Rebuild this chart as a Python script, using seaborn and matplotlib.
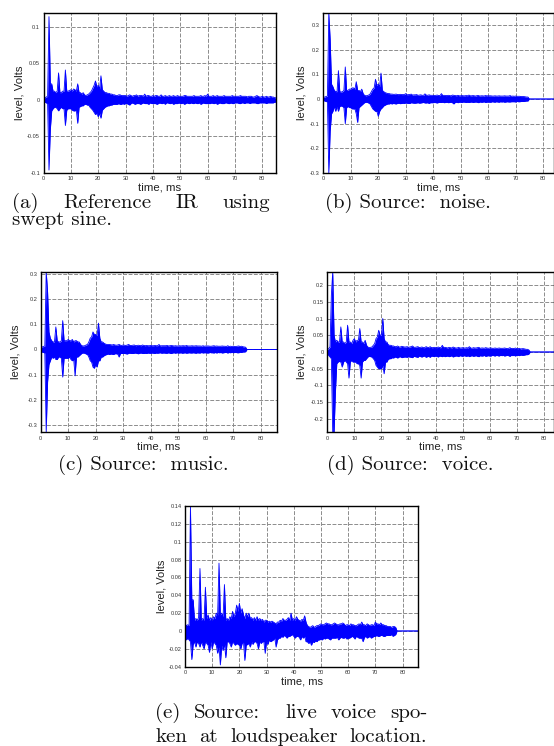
import numpy as np
import pandas as pd
import matplotlib
matplotlib.use("Agg")
import matplotlib.pyplot as plt
from matplotlib.ticker import FuncFormatter
import seaborn as sns

# ---------------------------------------------------------------------------
# Impulse responses as peak envelopes: upper / lower excursion (volts) in
# every 0.5 ms bin, starting at t = 0.
# ---------------------------------------------------------------------------
BIN_MS = 0.5

# (a) reference IR measured with a swept sine
hi_a = [
    0.003, 0.003, 0.004, 0.005, 0.114, 0.022, 0.022, 0.012, 0.012, 0.010,
    0.012, 0.037, 0.010, 0.010, 0.012, 0.012, 0.041, 0.012, 0.012, 0.013,
    0.014, 0.012, 0.015, 0.014, 0.012, 0.022, 0.010, 0.010, 0.008, 0.010,
    0.007, 0.006, 0.007, 0.008, 0.010, 0.012, 0.016, 0.020, 0.026, 0.018,
    0.020, 0.015, 0.033, 0.014, 0.012, 0.010, 0.010, 0.009, 0.009, 0.008,
    0.008, 0.007, 0.007, 0.006, 0.006, 0.007, 0.007, 0.006, 0.006, 0.006,
    0.006, 0.005, 0.006, 0.007, 0.006, 0.005, 0.006, 0.006, 0.007, 0.005,
    0.006, 0.006, 0.006, 0.005, 0.008, 0.005, 0.006, 0.006, 0.005, 0.005,
    0.006, 0.005, 0.006, 0.006, 0.005, 0.005, 0.007, 0.005, 0.005, 0.006,
    0.005, 0.005, 0.006, 0.005, 0.005, 0.006, 0.005, 0.005, 0.006, 0.005,
    0.005, 0.005, 0.005, 0.006, 0.006, 0.005, 0.005, 0.005, 0.005, 0.005,
    0.006, 0.005, 0.005, 0.005, 0.005, 0.006, 0.005, 0.005, 0.006, 0.005,
    0.008, 0.005, 0.005, 0.005, 0.006, 0.005, 0.005, 0.006, 0.005, 0.005,
    0.005, 0.005, 0.006, 0.005, 0.005, 0.005, 0.005, 0.005, 0.006, 0.005,
    0.005, 0.005, 0.005, 0.005, 0.006, 0.005, 0.005, 0.005, 0.005, 0.004,
    0.005, 0.005, 0.005, 0.004, 0.004, 0.005, 0.006, 0.005, 0.004, 0.004,
    0.005, 0.004, 0.004, 0.005, 0.004, 0.004, 0.005, 0.004, 0.004, 0.003, 0.003,
]
lo_a = [
    -0.003, -0.003, -0.004, -0.005, -0.096, -0.040, -0.015, -0.012, -0.010, -0.010,
    -0.012, -0.015, -0.012, -0.010, -0.012, -0.012, -0.035, -0.014, -0.012, -0.012,
    -0.012, -0.014, -0.015, -0.015, -0.014, -0.032, -0.010, -0.009, -0.008, -0.008,
    -0.006, -0.006, -0.007, -0.007, -0.010, -0.012, -0.014, -0.017, -0.020, -0.018,
    -0.023, -0.018, -0.025, -0.014, -0.012, -0.010, -0.009, -0.008, -0.008, -0.007,
    -0.007, -0.006, -0.006, -0.006, -0.006, -0.005, -0.006, -0.006, -0.005, -0.006,
    -0.005, -0.005, -0.006, -0.007, -0.005, -0.004, -0.005, -0.006, -0.005, -0.005,
    -0.005, -0.006, -0.005, -0.004, -0.005, -0.005, -0.005, -0.006, -0.004, -0.005,
    -0.005, -0.005, -0.005, -0.006, -0.005, -0.004, -0.005, -0.005, -0.004, -0.006,
    -0.004, -0.004, -0.005, -0.005, -0.004, -0.006, -0.005, -0.005, -0.005, -0.004,
    -0.005, -0.005, -0.004, -0.006, -0.005, -0.004, -0.005, -0.005, -0.004, -0.005,
    -0.005, -0.004, -0.005, -0.005, -0.004, -0.006, -0.005, -0.004, -0.005, -0.005,
    -0.005, -0.005, -0.005, -0.004, -0.005, -0.005, -0.004, -0.006, -0.005, -0.004,
    -0.005, -0.005, -0.005, -0.004, -0.004, -0.005, -0.005, -0.004, -0.005, -0.005,
    -0.004, -0.004, -0.004, -0.005, -0.005, -0.004, -0.004, -0.005, -0.004, -0.004,
    -0.004, -0.005, -0.004, -0.004, -0.004, -0.004, -0.005, -0.005, -0.004, -0.004,
    -0.004, -0.004, -0.004, -0.005, -0.004, -0.004, -0.004, -0.004, -0.004, -0.003, -0.003,
]

# (b) excitation: noise (record ends at 75 ms, zero padded after)
hi_b = [
    0.006, 0.008, 0.010, 0.012, 0.350, 0.240, 0.060, 0.050, 0.035, 0.030,
    0.030, 0.115, 0.030, 0.028, 0.030, 0.035, 0.130, 0.035, 0.035, 0.040,
    0.040, 0.045, 0.045, 0.040, 0.070, 0.035, 0.035, 0.030, 0.040, 0.022,
    0.015, 0.013, 0.014, 0.016, 0.020, 0.030, 0.040, 0.045, 0.080, 0.055,
    0.060, 0.050, 0.105, 0.035, 0.030, 0.026, 0.024, 0.022, 0.022, 0.020,
    0.020, 0.019, 0.019, 0.020, 0.018, 0.018, 0.019, 0.018, 0.018, 0.018,
    0.022, 0.017, 0.018, 0.018, 0.020, 0.016, 0.017, 0.017, 0.018, 0.015,
    0.016, 0.017, 0.015, 0.015, 0.021, 0.016, 0.015, 0.017, 0.015, 0.015,
    0.015, 0.014, 0.015, 0.016, 0.014, 0.014, 0.022, 0.014, 0.015, 0.014,
    0.014, 0.015, 0.014, 0.013, 0.016, 0.015, 0.014, 0.013, 0.015, 0.013,
    0.013, 0.014, 0.013, 0.013, 0.014, 0.013, 0.016, 0.013, 0.013, 0.014,
    0.013, 0.012, 0.014, 0.014, 0.012, 0.013, 0.013, 0.012, 0.014, 0.013,
    0.013, 0.013, 0.013, 0.012, 0.012, 0.013, 0.012, 0.012, 0.013, 0.012,
    0.012, 0.012, 0.013, 0.012, 0.012, 0.012, 0.014, 0.011, 0.012, 0.011,
    0.012, 0.011, 0.011, 0.011, 0.010, 0.010, 0.010, 0.009, 0.008, 0.008,
    0.0,
] + [0.0] * 18
lo_b = [
    -0.006, -0.008, -0.010, -0.012, -0.300, -0.130, -0.060, -0.050, -0.030, -0.050,
    -0.030, -0.050, -0.030, -0.028, -0.030, -0.035, -0.100, -0.035, -0.030, -0.035,
    -0.035, -0.040, -0.040, -0.040, -0.060, -0.095, -0.035, -0.030, -0.025, -0.020,
    -0.015, -0.013, -0.014, -0.016, -0.020, -0.030, -0.040, -0.045, -0.050, -0.050,
    -0.070, -0.050, -0.040, -0.035, -0.028, -0.025, -0.022, -0.020, -0.020, -0.018,
    -0.020, -0.018, -0.019, -0.020, -0.018, -0.017, -0.019, -0.018, -0.017, -0.018,
    -0.016, -0.017, -0.018, -0.018, -0.015, -0.016, -0.017, -0.017, -0.016, -0.015,
    -0.017, -0.016, -0.015, -0.014, -0.016, -0.016, -0.015, -0.018, -0.015, -0.015,
    -0.015, -0.014, -0.015, -0.016, -0.014, -0.014, -0.014, -0.013, -0.015, -0.014,
    -0.013, -0.015, -0.014, -0.013, -0.015, -0.020, -0.014, -0.013, -0.015, -0.013,
    -0.013, -0.014, -0.012, -0.013, -0.014, -0.013, -0.014, -0.013, -0.012, -0.014,
    -0.013, -0.012, -0.013, -0.015, -0.012, -0.013, -0.013, -0.011, -0.014, -0.013,
    -0.012, -0.013, -0.013, -0.011, -0.012, -0.013, -0.011, -0.012, -0.013, -0.011,
    -0.012, -0.011, -0.013, -0.012, -0.011, -0.012, -0.012, -0.011, -0.011, -0.011,
    -0.012, -0.010, -0.011, -0.011, -0.010, -0.010, -0.010, -0.009, -0.008, -0.008,
    0.0,
] + [0.0] * 18

# (c) excitation: music
hi_c = [
    0.010, 0.010, 0.012, 0.014, 0.310, 0.230, 0.070, 0.045, 0.035, 0.030,
    0.030, 0.090, 0.035, 0.030, 0.030, 0.035, 0.115, 0.035, 0.035, 0.035,
    0.040, 0.035, 0.035, 0.040, 0.030, 0.035, 0.035, 0.030, 0.030, 0.020,
    0.015, 0.014, 0.015, 0.018, 0.020, 0.030, 0.045, 0.050, 0.070, 0.060,
    0.060, 0.055, 0.105, 0.045, 0.030, 0.030, 0.025, 0.022, 0.020, 0.020,
    0.020, 0.019, 0.018, 0.020, 0.018, 0.017, 0.018, 0.020, 0.017, 0.016,
    0.018, 0.017, 0.016, 0.018, 0.020, 0.016, 0.016, 0.017, 0.018, 0.015,
    0.016, 0.017, 0.016, 0.015, 0.018, 0.016, 0.015, 0.016, 0.015, 0.015,
    0.016, 0.015, 0.015, 0.016, 0.015, 0.015, 0.020, 0.014, 0.015, 0.015,
    0.015, 0.015, 0.016, 0.014, 0.015, 0.016, 0.015, 0.014, 0.015, 0.014,
    0.014, 0.015, 0.014, 0.015, 0.015, 0.014, 0.016, 0.014, 0.014, 0.014,
    0.015, 0.014, 0.014, 0.015, 0.014, 0.014, 0.014, 0.013, 0.015, 0.013,
    0.014, 0.014, 0.014, 0.013, 0.013, 0.014, 0.015, 0.013, 0.014, 0.013,
    0.013, 0.013, 0.014, 0.013, 0.013, 0.012, 0.015, 0.012, 0.013, 0.012,
    0.013, 0.012, 0.012, 0.013, 0.014, 0.012, 0.013, 0.011, 0.010, 0.009,
    0.0,
] + [0.0] * 22
lo_c = [
    -0.010, -0.010, -0.012, -0.014, -0.330, -0.130, -0.060, -0.045, -0.030, -0.035,
    -0.030, -0.040, -0.040, -0.030, -0.030, -0.035, -0.110, -0.035, -0.035, -0.035,
    -0.035, -0.030, -0.040, -0.045, -0.040, -0.105, -0.030, -0.030, -0.025, -0.020,
    -0.015, -0.014, -0.015, -0.018, -0.020, -0.030, -0.045, -0.050, -0.070, -0.075,
    -0.060, -0.070, -0.045, -0.045, -0.030, -0.030, -0.025, -0.022, -0.020, -0.018,
    -0.020, -0.018, -0.019, -0.020, -0.017, -0.017, -0.018, -0.030, -0.016, -0.016,
    -0.016, -0.016, -0.017, -0.018, -0.015, -0.015, -0.016, -0.016, -0.015, -0.014,
    -0.016, -0.017, -0.015, -0.014, -0.016, -0.016, -0.015, -0.016, -0.014, -0.015,
    -0.015, -0.014, -0.015, -0.016, -0.014, -0.015, -0.014, -0.013, -0.015, -0.014,
    -0.014, -0.015, -0.015, -0.013, -0.015, -0.016, -0.014, -0.013, -0.015, -0.013,
    -0.014, -0.014, -0.013, -0.015, -0.014, -0.013, -0.015, -0.014, -0.013, -0.014,
    -0.014, -0.013, -0.014, -0.015, -0.013, -0.014, -0.014, -0.012, -0.014, -0.013,
    -0.013, -0.014, -0.014, -0.012, -0.013, -0.013, -0.014, -0.012, -0.014, -0.012,
    -0.013, -0.012, -0.014, -0.013, -0.012, -0.012, -0.014, -0.012, -0.013, -0.011,
    -0.013, -0.012, -0.012, -0.013, -0.013, -0.011, -0.012, -0.010, -0.010, -0.009,
    0.0,
] + [0.0] * 22

# (d) excitation: voice
hi_d = [
    0.006, 0.010, 0.015, 0.170, 0.240, 0.050, 0.030, 0.035, 0.030, 0.030,
    0.075, 0.030, 0.030, 0.025, 0.030, 0.080, 0.030, 0.030, 0.025, 0.035,
    0.040, 0.030, 0.035, 0.035, 0.070, 0.030, 0.030, 0.025, 0.035, 0.020,
    0.015, 0.013, 0.014, 0.015, 0.020, 0.025, 0.040, 0.045, 0.065, 0.050,
    0.050, 0.100, 0.040, 0.030, 0.030, 0.022, 0.020, 0.020, 0.018, 0.018,
    0.016, 0.016, 0.018, 0.015, 0.015, 0.017, 0.016, 0.015, 0.015, 0.016,
    0.014, 0.015, 0.016, 0.018, 0.014, 0.014, 0.015, 0.016, 0.013, 0.014,
    0.015, 0.013, 0.013, 0.016, 0.014, 0.013, 0.016, 0.013, 0.013, 0.014,
    0.013, 0.013, 0.015, 0.013, 0.013, 0.020, 0.013, 0.014, 0.013, 0.012,
    0.014, 0.013, 0.012, 0.015, 0.013, 0.012, 0.012, 0.014, 0.012, 0.012,
    0.013, 0.012, 0.012, 0.013, 0.012, 0.016, 0.012, 0.011, 0.013, 0.012,
    0.012, 0.013, 0.014, 0.011, 0.012, 0.012, 0.011, 0.013, 0.012, 0.011,
    0.012, 0.012, 0.011, 0.011, 0.012, 0.011, 0.011, 0.012, 0.011, 0.011,
    0.011, 0.012, 0.011, 0.010, 0.011, 0.013, 0.010, 0.011, 0.010, 0.012,
    0.010, 0.010, 0.011, 0.009, 0.010, 0.010, 0.009, 0.008, 0.008, 0.006,
    0.0,
] + [0.0] * 18
lo_d = [
    -0.006, -0.010, -0.015, -0.020, -0.240, -0.240, -0.120, -0.035, -0.030, -0.028,
    -0.030, -0.045, -0.030, -0.025, -0.030, -0.035, -0.078, -0.030, -0.025, -0.030,
    -0.030, -0.030, -0.035, -0.035, -0.040, -0.078, -0.030, -0.025, -0.025, -0.020,
    -0.015, -0.013, -0.014, -0.015, -0.020, -0.025, -0.040, -0.045, -0.050, -0.050,
    -0.050, -0.040, -0.065, -0.030, -0.030, -0.022, -0.020, -0.020, -0.017, -0.018,
    -0.015, -0.016, -0.018, -0.015, -0.014, -0.017, -0.016, -0.015, -0.015, -0.016,
    -0.014, -0.015, -0.016, -0.017, -0.013, -0.014, -0.015, -0.016, -0.012, -0.014,
    -0.015, -0.013, -0.012, -0.016, -0.014, -0.013, -0.016, -0.012, -0.013, -0.014,
    -0.012, -0.013, -0.015, -0.012, -0.013, -0.014, -0.012, -0.014, -0.013, -0.012,
    -0.014, -0.013, -0.011, -0.015, -0.013, -0.012, -0.012, -0.014, -0.011, -0.012,
    -0.013, -0.011, -0.012, -0.013, -0.011, -0.014, -0.012, -0.011, -0.013, -0.012,
    -0.011, -0.013, -0.014, -0.011, -0.012, -0.012, -0.010, -0.013, -0.012, -0.011,
    -0.012, -0.012, -0.010, -0.011, -0.012, -0.010, -0.011, -0.012, -0.010, -0.011,
    -0.010, -0.012, -0.011, -0.010, -0.011, -0.013, -0.010, -0.011, -0.010, -0.012,
    -0.010, -0.010, -0.011, -0.009, -0.010, -0.010, -0.009, -0.008, -0.008, -0.006,
    0.0,
] + [0.0] * 18

# (e) live voice spoken at the loudspeaker location (record ends at 78 ms)
hi_e = [
    0.008, 0.006, 0.007, 0.006, 0.140, 0.035, 0.035, 0.012, 0.014, 0.012,
    0.015, 0.070, 0.012, 0.014, 0.012, 0.049, 0.014, 0.018, 0.012, 0.015,
    0.012, 0.016, 0.014, 0.020, 0.018, 0.076, 0.018, 0.020, 0.016, 0.052,
    0.012, 0.014, 0.012, 0.016, 0.014, 0.022, 0.016, 0.020, 0.029, 0.022,
    0.031, 0.020, 0.025, 0.018, 0.014, 0.020, 0.016, 0.020, 0.014, 0.015,
    0.012, 0.015, 0.012, 0.016, 0.012, 0.014, 0.012, 0.013, 0.010, 0.012,
    0.012, 0.010, 0.011, 0.010, 0.011, 0.010, 0.009, 0.008, 0.010, 0.010,
    0.012, 0.011, 0.014, 0.012, 0.012, 0.013, 0.015, 0.012, 0.020, 0.012,
    0.014, 0.012, 0.016, 0.013, 0.012, 0.011, 0.013, 0.012, 0.017, 0.010,
    0.006, 0.005, 0.004, 0.005, 0.006, 0.004, 0.005, 0.006, 0.006, 0.007,
    0.008, 0.007, 0.007, 0.008, 0.009, 0.008, 0.008, 0.007, 0.007, 0.008,
    0.009, 0.008, 0.007, 0.007, 0.008, 0.008, 0.009, 0.008, 0.006, 0.007,
    0.007, 0.006, 0.008, 0.007, 0.007, 0.006, 0.006, 0.007, 0.008, 0.007,
    0.010, 0.007, 0.007, 0.006, 0.008, 0.007, 0.006, 0.007, 0.007, 0.006,
    0.010, 0.008, 0.008, 0.007, 0.009, 0.007, 0.007, 0.006, 0.006, 0.005,
    0.005, 0.005, 0.004, 0.005, 0.005, 0.004, 0.0,
] + [0.0] * 16
lo_e = [
    -0.008, -0.010, -0.008, -0.010, -0.012, -0.032, -0.015, -0.012, -0.018, -0.012,
    -0.014, -0.018, -0.012, -0.016, -0.020, -0.012, -0.014, -0.016, -0.024, -0.012,
    -0.020, -0.012, -0.014, -0.016, -0.025, -0.018, -0.038, -0.016, -0.022, -0.014,
    -0.030, -0.012, -0.012, -0.014, -0.018, -0.012, -0.014, -0.016, -0.014, -0.015,
    -0.016, -0.020, -0.014, -0.012, -0.033, -0.016, -0.015, -0.014, -0.018, -0.012,
    -0.015, -0.012, -0.012, -0.014, -0.020, -0.012, -0.014, -0.012, -0.012, -0.025,
    -0.012, -0.015, -0.010, -0.012, -0.011, -0.010, -0.008, -0.018, -0.010, -0.008,
    -0.008, -0.006, -0.007, -0.005, -0.006, -0.008, -0.006, -0.006, -0.005, -0.004,
    -0.006, -0.008, -0.006, -0.006, -0.007, -0.010, -0.006, -0.008, -0.006, -0.012,
    -0.012, -0.014, -0.012, -0.016, -0.012, -0.013, -0.011, -0.012, -0.010, -0.010,
    -0.009, -0.010, -0.008, -0.009, -0.008, -0.008, -0.009, -0.010, -0.008, -0.008,
    -0.008, -0.008, -0.007, -0.010, -0.008, -0.007, -0.008, -0.008, -0.007, -0.009,
    -0.008, -0.008, -0.007, -0.006, -0.007, -0.009, -0.006, -0.007, -0.008, -0.008,
    -0.008, -0.012, -0.007, -0.006, -0.008, -0.007, -0.006, -0.008, -0.007, -0.006,
    -0.006, -0.005, -0.006, -0.006, -0.005, -0.005, -0.006, -0.006, -0.005, -0.005,
    -0.005, -0.005, -0.004, -0.006, -0.005, -0.004, 0.0,
] + [0.0] * 16

# Axis ranges and tick positions
x_ticks = [0, 10, 20, 30, 40, 50, 60, 70, 80]
y_ticks_a = [-0.1, -0.05, 0, 0.05, 0.1]
y_ticks_bc = [-0.3, -0.2, -0.1, 0, 0.1, 0.2, 0.3]
y_ticks_d = [-0.2, -0.15, -0.1, -0.05, 0, 0.05, 0.1, 0.15, 0.2]
y_ticks_e = [-0.04, -0.02, 0, 0.02, 0.04, 0.06, 0.08, 0.1, 0.12, 0.14]

# ---------------------------------------------------------------------------
sns.set_theme(style="white")
plt.rcParams["font.family"] = ["Liberation Sans", "DejaVu Sans"]
plt.rcParams["axes.unicode_minus"] = False

W, H = 554, 746
BLUE = (0, 0, 1)
fig = plt.figure(figsize=(W / 100, H / 100), dpi=100)


def px_axes(left, top, right, bottom):
    return fig.add_axes([left / W, 1 - bottom / H, (right - left) / W, (bottom - top) / H])


def fmt(v, _):
    return "%g" % round(v, 4)


def draw_panel(ax, hi, lo, xlim, ylim, yticks, ylab_off, tick_fs=4.1, lab_fs=8.2):
    t = np.arange(len(hi)) * BIN_MS
    df = pd.DataFrame({"time": t, "upper": hi, "lower": lo})
    long = df.melt(id_vars="time", var_name="edge", value_name="level")
    ax.fill_between(df["time"], df["lower"], df["upper"], color=BLUE, linewidth=0)
    sns.lineplot(data=long, x="time", y="level", units="edge", estimator=None,
                 ax=ax, color=BLUE, linewidth=0.6, sort=False)
    ax.set_xlim(*xlim)
    ax.set_ylim(*ylim)
    ax.set_xticks(x_ticks)
    ax.set_yticks(yticks)
    ax.xaxis.set_major_formatter(FuncFormatter(fmt))
    ax.yaxis.set_major_formatter(FuncFormatter(fmt))
    ax.tick_params(axis="both", length=0, labelsize=tick_fs, labelcolor="#333333", pad=2.5)
    ax.grid(True, color="#8c8c8c", linestyle=(0, (4, 1.6)), linewidth=0.7)
    ax.set_axisbelow(True)
    for sp in ax.spines.values():
        sp.set_color("black")
        sp.set_linewidth(1.0)
        sp.set_visible(True)
    ax.set_xlabel("time, ms", fontsize=lab_fs, color="#222222")
    ax.set_ylabel("level, Volts", fontsize=lab_fs, color="#222222")
    bbox = ax.get_position()
    hpx = bbox.height * H
    wpx = bbox.width * W
    ax.xaxis.set_label_coords(0.5, -14.5 / hpx)
    ax.xaxis.label.set_va("center")
    ax.yaxis.set_label_coords(-ylab_off / wpx, 0.5)
    ax.yaxis.label.set_va("center")


ax_a = px_axes(43.5, 13, 276, 173)
draw_panel(ax_a, hi_a, lo_a, (0, 85), (-0.1, 0.119), y_ticks_a, 24.5)

ax_b = px_axes(323.3, 12.7, 553.5, 173)
draw_panel(ax_b, hi_b, lo_b, (0, 83.8), (-0.3, 0.35), y_ticks_bc, 21.6)

ax_c = px_axes(40.7, 271.7, 276.7, 432.3)
draw_panel(ax_c, hi_c, lo_c, (0, 85.8), (-0.33, 0.31), y_ticks_bc, 25.7)

ax_d = px_axes(327.3, 271.7, 553.5, 432.3)
draw_panel(ax_d, hi_d, lo_d, (0, 83.6), (-0.24, 0.24), y_ticks_d, 25.6)

ax_e = px_axes(185, 506, 418.3, 666.7)
draw_panel(ax_e, hi_e, lo_e, (0, 85.8), (-0.04, 0.14), y_ticks_e, 23.3, lab_fs=8.0)

# ---------------------------------------------------------------------------
# Sub-figure captions; justified lines are set word by word with evenly
# stretched inter-word gaps.
CAP_FS = 15


def cap(x, y, s):
    fig.text(x / W, 1 - y / H, s, fontsize=CAP_FS, family="cmr10",
             ha="left", va="baseline", color="#111111")


for x, word in [(11.7, "(a)"), (62.8, "Reference"), (175.0, "IR"), (222.4, "using")]:
    cap(x, 208, word)
cap(11.7, 225, "swept sine.")
cap(325, 208, "(b) Source:  noise.")
cap(58.3, 470, "(c) Source:  music.")
cap(326.7, 470, "(d) Source:  voice.")
for x, word in [(155, "(e)"), (194.2, "Source:"), (284.9, "live"), (330.4, "voice"), (389.8, "spo-")]:
    cap(x, 718, word)
for x, word in [(155, "ken"), (199.1, "at"), (229.9, "loudspeaker"), (349.4, "location.")]:
    cap(x, 742, word)

fig.savefig("out.png", dpi=100)
